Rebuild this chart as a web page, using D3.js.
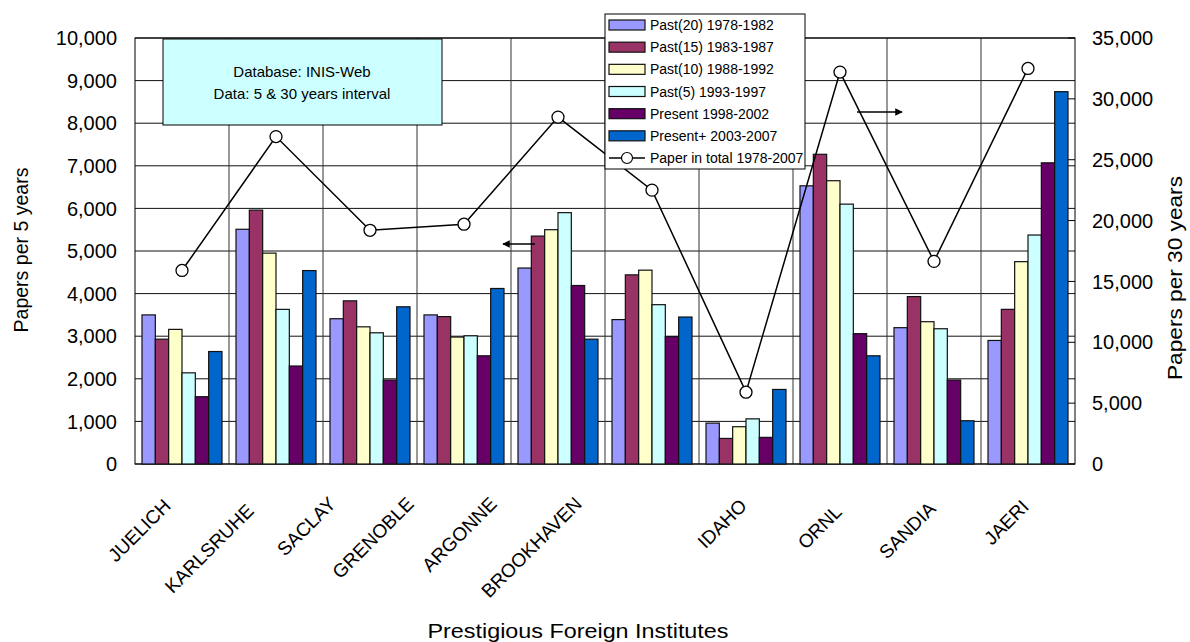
<!DOCTYPE html>
<html>
<head>
<meta charset="utf-8">
<script src="https://cdn.jsdelivr.net/npm/d3@7"></script>
<style>
  body { margin: 0; background: #fff; }
  svg { font-family: "Liberation Sans", Arial, sans-serif; }
</style>
</head>
<body>
<svg id="chart" width="1190" height="642"></svg>
<script>
// institutes on the x axis
var institutes = ["JUELICH", "KARLSRUHE", "SACLAY", "GRENOBLE", "ARGONNE",
                  "BROOKHAVEN", "IDAHO", "ORNL", "SANDIA", "JAERI"];

// papers per 5 years, one array per period
var past20   = [3500, 5510, 3410, 3500, 4600, 3390,  960, 6530, 3200, 2900];
var past15   = [2930, 5960, 3830, 3460, 5350, 4440,  600, 7270, 3930, 3630];
var past10   = [3160, 4950, 3220, 2980, 5500, 4550,  875, 6650, 3340, 4750];
var past5    = [2140, 3630, 3080, 3010, 5900, 3740, 1060, 6100, 3175, 5375];
var present  = [1580, 2300, 1970, 2540, 4190, 2990,  625, 3060, 1970, 7070];
var presentP = [2640, 4540, 3690, 4120, 2930, 3450, 1750, 2540, 1015, 8740];

// papers in total 1978-2007 (right axis)
var total = [15900, 26900, 19200, 19700, 28500, 22500, 5900, 32200, 16650, 32500];

var seriesNames = ["Past(20) 1978-1982", "Past(15) 1983-1987", "Past(10) 1988-1992",
                   "Past(5) 1993-1997", "Present 1998-2002", "Present+ 2003-2007"];
var lineName = "Paper in total 1978-2007";
var colors = ["#9999ff", "#993366", "#ffffcc", "#ccffff", "#660066", "#0066cc"];

var leftTicks = d3.range(0, 10001, 1000);
var rightTicks = d3.range(0, 35001, 5000);

// label placement tweaks (layout, not data)
var labelDx = [-10, -21, -33, -49, -60, -69, 2, 3, 3, 2];
var labelY  = [507, 512, 505, 505, 505, 505, 507, 513, 510, 508];

var series = [past20, past15, past10, past5, present, presentP];

draw();

function draw() {
  var svg = d3.select("#chart");
  var pl = 135, pr = 1075, pt = 38, pb = 464;

  var x0 = d3.scaleBand().domain(institutes).range([pl, pr]).padding(0);
  var x1 = d3.scaleBand().domain(d3.range(series.length)).range([7, 87]);
  var yL = d3.scaleLinear().domain([0, 10000]).range([pb, pt]);
  var yR = d3.scaleLinear().domain([0, 35000]).range([pb, pt]);
  var fmt = d3.format(",");

  // grid lines
  svg.append("g").selectAll("line")
    .data(leftTicks).enter().append("line")
    .attr("x1", pl).attr("x2", pr)
    .attr("y1", function(d) { return yL(d); })
    .attr("y2", function(d) { return yL(d); })
    .style("stroke", "#111").style("stroke-width", 1);

  svg.append("g").selectAll("line")
    .data(institutes.slice(1)).enter().append("line")
    .attr("x1", function(d) { return x0(d); })
    .attr("x2", function(d) { return x0(d); })
    .attr("y1", pt).attr("y2", pb)
    .style("stroke", "#333").style("stroke-width", 1);

  // frame
  svg.append("rect")
    .attr("x", pl).attr("y", pt)
    .attr("width", pr - pl).attr("height", pb - pt)
    .style("fill", "none").style("stroke", "#000").style("stroke-width", 1);

  // right axis inner ticks
  svg.append("g").selectAll("line")
    .data(rightTicks).enter().append("line")
    .attr("x1", pr - 7).attr("x2", pr)
    .attr("y1", function(d) { return yR(d); })
    .attr("y2", function(d) { return yR(d); })
    .style("stroke", "#000");

  // bars
  var groups = svg.append("g").selectAll("g")
    .data(institutes).enter().append("g")
    .attr("transform", function(d) { return "translate(" + x0(d) + ",0)"; });

  groups.selectAll("rect")
    .data(function(d, i) { return series.map(function(s, k) { return { k: k, v: s[i] }; }); })
    .enter().append("rect")
    .attr("x", function(d) { return x1(d.k); })
    .attr("width", x1.bandwidth())
    .attr("y", function(d) { return yL(d.v); })
    .attr("height", function(d) { return pb - yL(d.v); })
    .style("fill", function(d) { return colors[d.k]; })
    .style("stroke", "#111").style("stroke-width", 1.2);

  // text box
  svg.append("rect")
    .attr("x", 163).attr("y", 39).attr("width", 279).attr("height", 86)
    .style("fill", "#ccffff").style("stroke", "#000").style("stroke-width", 1);
  svg.append("text").attr("x", 302).attr("y", 77).attr("text-anchor", "middle")
    .style("font-size", "15px").text("Database: INIS-Web");
  svg.append("text").attr("x", 302).attr("y", 99).attr("text-anchor", "middle")
    .style("font-size", "15px").text("Data: 5 & 30 years interval");

  // total line
  var cx = function(d, i) { return x0(institutes[i]) + x0.bandwidth() / 2; };
  var line = d3.line().x(cx).y(function(d) { return yR(d); });
  svg.append("path").datum(total)
    .attr("d", line)
    .style("fill", "none").style("stroke", "#000").style("stroke-width", 1.5);
  svg.append("g").selectAll("circle")
    .data(total).enter().append("circle")
    .attr("cx", cx).attr("cy", function(d) { return yR(d); })
    .attr("r", 6)
    .style("fill", "#fff").style("stroke", "#000").style("stroke-width", 1.3);

  // arrows
  var defs = svg.append("defs");
  defs.append("marker").attr("id", "ah")
    .attr("viewBox", "0 0 10 10").attr("refX", 9).attr("refY", 5)
    .attr("markerWidth", 5).attr("markerHeight", 5).attr("orient", "auto")
    .append("path").attr("d", "M0,0L10,5L0,10z").style("fill", "#000");
  svg.append("line").attr("x1", 535).attr("y1", 244).attr("x2", 503).attr("y2", 244)
    .style("stroke", "#000").style("stroke-width", 1.5).attr("marker-end", "url(#ah)");
  svg.append("line").attr("x1", 857).attr("y1", 112).attr("x2", 902).attr("y2", 112)
    .style("stroke", "#000").style("stroke-width", 1.5).attr("marker-end", "url(#ah)");

  // left axis labels
  svg.append("g").selectAll("text")
    .data(leftTicks).enter().append("text")
    .attr("x", 117).attr("y", function(d) { return yL(d); })
    .attr("dy", "0.36em").attr("text-anchor", "end")
    .style("font-size", "20px").text(fmt);

  // right axis labels
  svg.append("g").selectAll("text")
    .data(rightTicks).enter().append("text")
    .attr("x", 1092).attr("y", function(d) { return yR(d); })
    .attr("dy", "0.36em").attr("text-anchor", "start")
    .style("font-size", "20px").text(fmt);

  // category labels
  svg.append("g").selectAll("text")
    .data(institutes).enter().append("text")
    .attr("transform", function(d, i) {
      var px = x0(d) + x0.bandwidth() / 2 + labelDx[i];
      return "translate(" + px + "," + labelY[i] + ") rotate(-45)";
    })
    .attr("text-anchor", "end")
    .style("font-size", "19px").text(function(d) { return d; });

  // axis titles
  svg.append("text")
    .attr("transform", "translate(27.5,250) rotate(-90)")
    .attr("text-anchor", "middle")
    .attr("textLength", 165).attr("lengthAdjust", "spacingAndGlyphs")
    .style("font-size", "20px").text("Papers per 5 years");
  svg.append("text")
    .attr("transform", "translate(1182,278) rotate(-90)")
    .attr("text-anchor", "middle")
    .attr("textLength", 204).attr("lengthAdjust", "spacingAndGlyphs")
    .style("font-size", "20px").text("Papers per 30 years");
  svg.append("text")
    .attr("x", 578).attr("y", 638).attr("text-anchor", "middle")
    .attr("textLength", 301).attr("lengthAdjust", "spacingAndGlyphs")
    .style("font-size", "20px").text("Prestigious Foreign Institutes");

  // legend
  var lg = svg.append("g");
  lg.append("rect").attr("x", 605).attr("y", 14).attr("width", 200).attr("height", 155)
    .style("fill", "#fff").style("stroke", "#000").style("stroke-width", 1);
  var items = seriesNames.concat([lineName]);
  var ly = d3.scalePoint().domain(d3.range(items.length)).range([25, 158]);
  items.forEach(function(name, i) {
    var yy = ly(i);
    if (i < seriesNames.length) {
      lg.append("rect").attr("x", 609).attr("y", yy - 5).attr("width", 36).attr("height", 10)
        .style("fill", colors[i]).style("stroke", "#111").style("stroke-width", 1.2);
    } else {
      lg.append("line").attr("x1", 609).attr("x2", 645).attr("y1", yy).attr("y2", yy)
        .style("stroke", "#000").style("stroke-width", 1.3);
      lg.append("circle").attr("cx", 627).attr("cy", yy).attr("r", 5.5)
        .style("fill", "#fff").style("stroke", "#000").style("stroke-width", 1.2);
    }
    lg.append("text").attr("x", 650).attr("y", yy).attr("dy", "0.36em")
      .style("font-size", "14px").text(name);
  });
}
</script>
</body>
</html>
